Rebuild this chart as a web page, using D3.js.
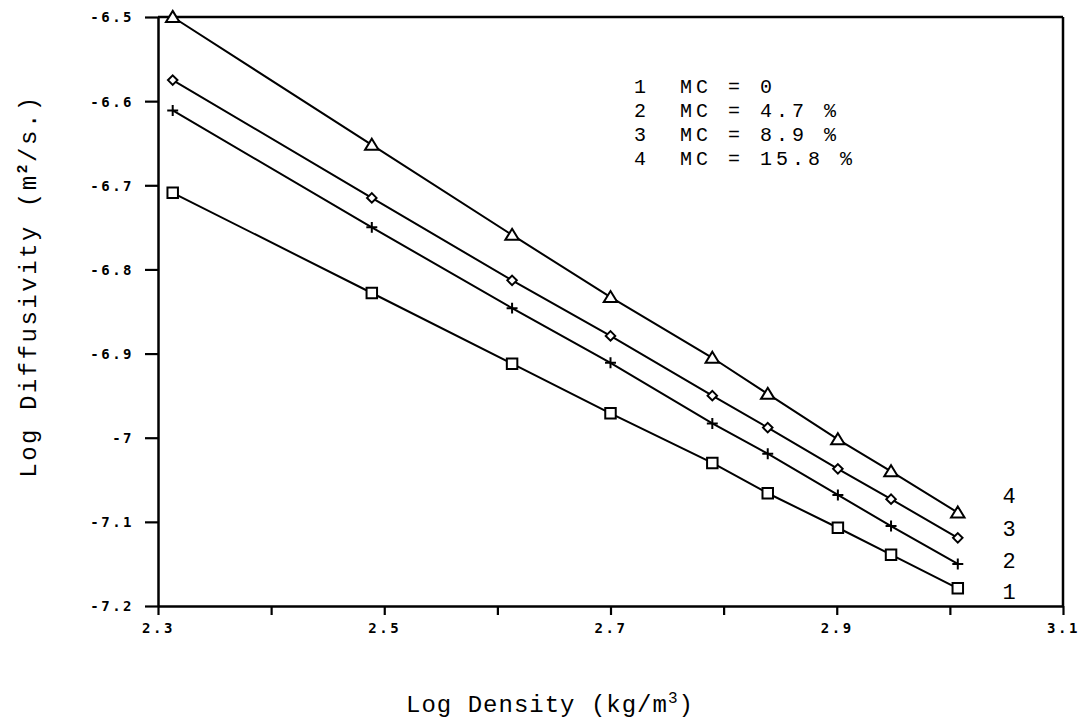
<!DOCTYPE html>
<html>
<head>
<meta charset="utf-8">
<script src="https://cdn.jsdelivr.net/npm/d3@7"></script>
<style>
  html, body { margin: 0; padding: 0; background: #fff; }
  svg { display: block; }
</style>
</head>
<body>
<svg id="chart" width="1088" height="718"></svg>
<script>
// ---- data ----
const logDensity = [2.313, 2.489, 2.613, 2.700, 2.790, 2.839, 2.901, 2.948, 3.007];
const series1 = [-6.709, -6.828, -6.912, -6.971, -7.030, -7.066, -7.107, -7.139, -7.179]; // MC = 0
const series2 = [-6.611, -6.750, -6.846, -6.911, -6.983, -7.019, -7.068, -7.105, -7.150]; // MC = 4.7 %
const series3 = [-6.575, -6.715, -6.813, -6.879, -6.950, -6.988, -7.037, -7.073, -7.119]; // MC = 8.9 %
const series4 = [-6.500, -6.652, -6.759, -6.833, -6.905, -6.948, -7.002, -7.040, -7.089]; // MC = 15.8 %
const seriesIds = ["1", "2", "3", "4"];
const legendLabels = ["MC = 0", "MC = 4.7 %", "MC = 8.9 %", "MC = 15.8 %"];
const xTicks = [2.3, 2.4, 2.5, 2.6, 2.7, 2.8, 2.9, 3.0, 3.1];
const xTickLabels = ["2.3", "", "2.5", "", "2.7", "", "2.9", "", "3.1"];
const yTicks = [-6.5, -6.6, -6.7, -6.8, -6.9, -7.0, -7.1, -7.2];
const yTickLabels = ["-6.5", "-6.6", "-6.7", "-6.8", "-6.9", "-7", "-7.1", "-7.2"];

const allSeries = [series1, series2, series3, series4];

// ---- layout ----
const svg = d3.select("#chart");
const L = 158, R = 1063, T = 17, B = 606;
const x = d3.scaleLinear().domain([2.3, 3.1]).range([L, R]);
const y = d3.scaleLinear().domain([-7.2, -6.5]).range([B, T]);

const serif = "'Liberation Mono', 'Courier New', monospace";
const tickFont = "'DejaVu Sans Mono', monospace";

// axes
const yAxis = d3.axisLeft(y).tickValues(yTicks).tickSize(13).tickSizeOuter(0)
  .tickFormat((d, i) => yTickLabels[i]);
const xAxis = d3.axisBottom(x).tickValues(xTicks).tickSize(9).tickSizeOuter(0)
  .tickFormat((d, i) => xTickLabels[i]);

const gy = svg.append("g").attr("transform", `translate(${L},0)`).call(yAxis);
const gx = svg.append("g").attr("transform", `translate(0,${B})`).call(xAxis);

[gx, gy].forEach(g => {
  g.select(".domain").attr("stroke", "#000").attr("stroke-width", 2.5);
  g.selectAll(".tick line").attr("stroke", "#000").attr("stroke-width", 2.2);
  g.selectAll(".tick text")
    .attr("fill", "#000")
    .style("font-family", tickFont)
    .style("font-weight", "bold")
    .style("font-size", "14px")
    .style("letter-spacing", "2.5px");
});
gy.selectAll(".tick text").attr("x", -24).attr("dy", "0.35em");
gx.selectAll(".tick text").attr("y", 17).attr("dy", "0.71em");

// frame top & right
svg.append("line").attr("x1", L).attr("x2", R).attr("y1", y(-6.5)).attr("y2", y(-6.5))
  .attr("stroke", "#000").attr("stroke-width", 2.5);
svg.append("line").attr("x1", R).attr("x2", R).attr("y1", y(-6.5)).attr("y2", y(-7.2))
  .attr("stroke", "#000").attr("stroke-width", 2.5);

// lines
const line = d3.line().x((d, i) => x(logDensity[i])).y(d => y(d));
allSeries.forEach(s => {
  svg.append("path").datum(s).attr("d", line)
    .attr("fill", "none").attr("stroke", "#000").attr("stroke-width", 2);
});

// custom marker symbol types
const symSquare = { draw(c, size) { const h = Math.sqrt(size) / 2; c.rect(-h, -h, 2 * h, 2 * h); } };
const symPlus = { draw(c, size) { const h = Math.sqrt(size) / 2; c.moveTo(-h, 0); c.lineTo(h, 0); c.moveTo(0, -h); c.lineTo(0, h); } };
const symDiamond = { draw(c, size) { const h = Math.sqrt(size) / 2; c.moveTo(0, -h); c.lineTo(h, 0); c.lineTo(0, h); c.lineTo(-h, 0); c.closePath(); } };
const symTriangle = { draw(c, size) { const h = Math.sqrt(size) / 2; c.moveTo(0, -h); c.lineTo(h * 1.1, h * 0.8); c.lineTo(-h * 1.1, h * 0.8); c.closePath(); } };
const symbolTypes = [symSquare, symPlus, symDiamond, symTriangle];
const symbolSizes = [110, 120, 90, 150];
const symbolFill = ["#fff", "none", "#fff", "#fff"];

allSeries.forEach((s, k) => {
  svg.append("g").selectAll("path").data(s).join("path")
    .attr("transform", (d, i) => `translate(${x(logDensity[i])},${y(d)})`)
    .attr("d", d3.symbol().type(symbolTypes[k]).size(symbolSizes[k]))
    .attr("fill", symbolFill[k]).attr("stroke", "#000").attr("stroke-width", 2);
});

// series end labels
const endLabelBase = [599, 568, 536, 503];
seriesIds.forEach((id, k) => {
  svg.append("text").attr("x", 1009).attr("y", endLabelBase[k])
    .attr("text-anchor", "middle")
    .style("font-family", serif).style("font-size", "22px")
    .text(id);
});

// legend
const legend = svg.append("g");
seriesIds.forEach((id, k) => {
  const yy = 93 + k * 24;
  legend.append("text").attr("x", 634).attr("y", yy)
    .style("font-family", serif).style("font-size", "20px").style("letter-spacing", "4px")
    .text(id);
  legend.append("text").attr("x", 680).attr("y", yy)
    .style("font-family", serif).style("font-size", "20px").style("letter-spacing", "4px")
    .text(legendLabels[k]);
});

// axis titles
const xt = svg.append("text").attr("x", 550).attr("y", 712).attr("text-anchor", "middle")
  .style("font-family", serif).style("font-size", "24px").style("letter-spacing", "1px");
xt.append("tspan").text("Log Density (kg/m");
xt.append("tspan").attr("dy", -9).style("font-size", "16px").text("3");
xt.append("tspan").attr("dy", 9).text(")");

const yt = svg.append("text").attr("transform", "translate(36,286) rotate(-90)")
  .attr("text-anchor", "middle")
  .style("font-family", serif).style("font-size", "24px").style("letter-spacing", "2.5px");
yt.append("tspan").text("Log Diffusivity (m");
yt.append("tspan").attr("dy", -9).style("font-size", "15px").style("font-weight", "bold").text("2");
yt.append("tspan").attr("dy", 9).text("/s.)");
</script>
</body>
</html>
